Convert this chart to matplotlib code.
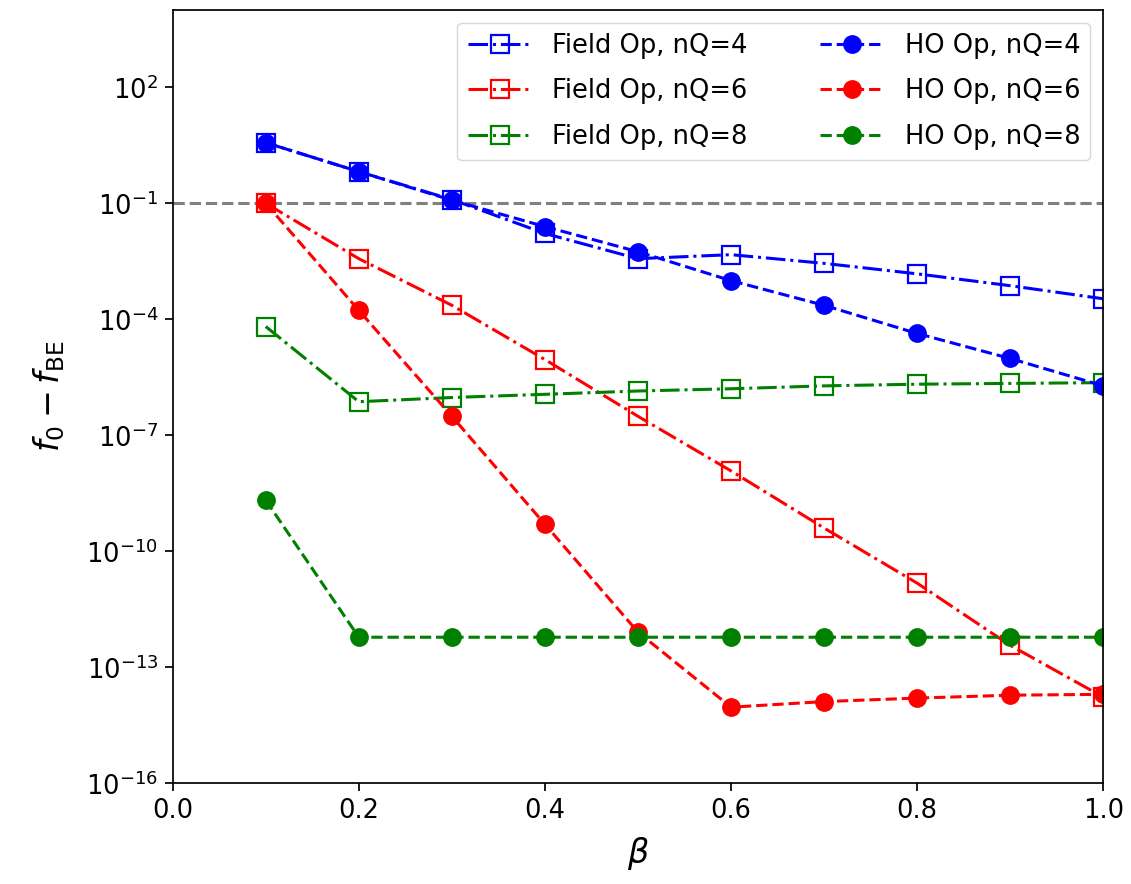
import numpy as np
import matplotlib.pyplot as plt
from matplotlib.ticker import NullLocator

beta = [0.1, 0.2, 0.3, 0.4, 0.5, 0.6, 0.7, 0.8, 0.9, 1.0]

# Field operator results
field_nq4 = [3.7, 0.66, 0.125, 1.66e-2, 3.7e-3, 4.7e-3, 2.8e-3, 1.5e-3, 7.4e-4, 3.4e-4]
field_nq6 = [0.1, 3.7e-3, 2.3e-4, 9.1e-6, 3.1e-7, 1.2e-8, 4.0e-10, 1.5e-11, 3.7e-13, 1.7e-14]
field_nq8 = [6.5e-5, 7.4e-7, 9.5e-7, 1.15e-6, 1.4e-6, 1.6e-6, 1.9e-6, 2.1e-6, 2.2e-6, 2.3e-6]

# HO operator results
ho_nq4 = [3.7, 0.66, 0.12, 2.5e-2, 5.6e-3, 1.0e-3, 2.3e-4, 4.3e-5, 9.7e-6, 1.9e-6]
ho_nq6 = [0.1, 1.7e-4, 3.1e-7, 5.0e-10, 8.1e-13, 9.3e-15, 1.3e-14, 1.6e-14, 1.9e-14, 2.0e-14]
ho_nq8 = [2.1e-9, 6e-13, 6e-13, 6e-13, 6e-13, 6e-13, 6e-13, 6e-13, 6e-13, 6e-13]

threshold = 0.1

fig = plt.figure(figsize=(11.31, 8.84), dpi=100)
ax = fig.add_axes([0.1527, 0.1139, 0.8228, 0.8748])

lw = 2.2
ms = 12.5
ax.axhline(threshold, color='gray', ls='--', lw=lw)

ax.plot(beta, field_nq4, '-.s', color='b', mfc='none', mew=1.6, ms=ms, lw=lw, label='Field Op, nQ=4')
ax.plot(beta, field_nq6, '-.s', color='r', mfc='none', mew=1.6, ms=ms, lw=lw, label='Field Op, nQ=6')
ax.plot(beta, field_nq8, '-.s', color='g', mfc='none', mew=1.6, ms=ms, lw=lw, label='Field Op, nQ=8')
ax.plot(beta, ho_nq4, '--o', color='b', ms=ms, lw=lw, label='HO Op, nQ=4')
ax.plot(beta, ho_nq6, '--o', color='r', ms=ms, lw=lw, label='HO Op, nQ=6')
ax.plot(beta, ho_nq8, '--o', color='g', ms=ms, lw=lw, label='HO Op, nQ=8')

ax.set_yscale('log')
ax.set_xlim(0, 1)
ax.set_ylim(1e-16, 1e4)
ax.set_yticks([1e-16, 1e-13, 1e-10, 1e-7, 1e-4, 1e-1, 1e2])
ax.yaxis.set_minor_locator(NullLocator())
ax.set_xticks([0.0, 0.2, 0.4, 0.6, 0.8, 1.0])
ax.tick_params(labelsize=18.5, length=5.5, width=1.25, pad=5)
for s in ax.spines.values():
    s.set_linewidth(1.25)

ax.set_xlabel(r'$\beta$', fontsize=24, labelpad=8)
ax.set_ylabel(r'$f_0 - f_{\rm BE}$', fontsize=24, labelpad=14)

ax.legend(loc='upper right', ncol=2, fontsize=18.5, handlelength=2.5,
          columnspacing=2.8, labelspacing=0.75, borderaxespad=0.5)

plt.savefig('out.png')
